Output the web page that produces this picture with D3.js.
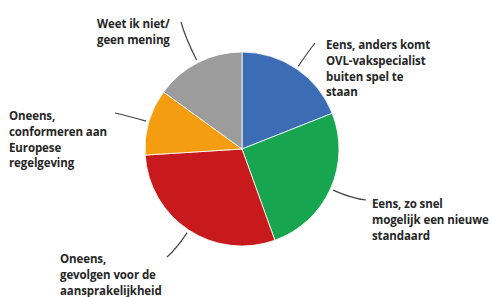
<!doctype html>
<html>
<head>
<meta charset="utf-8">
<script src="https://cdn.jsdelivr.net/npm/d3@7"></script>
<style>
  html, body { margin: 0; padding: 0; background: #fff; }
  svg { display: block; }
</style>
</head>
<body>
<script>
// Survey answers, clockwise from 12 o'clock
const categories = [
  "Eens, anders komt OVL-vakspecialist buiten spel te staan",
  "Eens, zo snel mogelijk een nieuwe standaard",
  "Oneens, gevolgen voor de aansprakelijkheid",
  "Oneens, conformeren aan Europese regelgeving",
  "Weet ik niet/ geen mening"
];
const values = [19, 25.5, 29.5, 11, 15];
const labelLines = [
  ["Eens, anders komt", "OVL-vakspecialist", "buiten spel te", "staan"],
  ["Eens, zo snel", "mogelijk een nieuwe", "standaard"],
  ["Oneens,", "gevolgen voor de", "aansprakelijkheid"],
  ["Oneens,", "conformeren aan", "Europese", "regelgeving"],
  ["Weet ik niet/", "geen mening"]
];
const colors = ["#3c6db4", "#17a64f", "#c8191d", "#f49d10", "#9c9c9c"];

const W = 493, H = 297;
const cx = 242, cy = 149, R = 97;
const lineH = 15.8;

// label block anchors (left x, first baseline) and leader end points
const labelPos = [
  { x: 326, y: 49, ex: 315, ey: 43 },
  { x: 372, y: 208, ex: 366, ey: 200 },
  { x: 60, y: 263, ex: 167, ey: 257 },
  { x: 9, y: 120, ex: 115, ey: 113 },
  { x: 97, y: 28, ex: 181, ey: 22 }
];

const svg = d3.select("body").append("svg")
  .attr("width", W).attr("height", H)
  .style("font-family", '"Open Sans", "DejaVu Sans", sans-serif');

const pie = d3.pie().sort(null).value(d => d)(values);
const arc = d3.arc().innerRadius(0).outerRadius(R);

const g = svg.append("g").attr("transform", `translate(${cx},${cy})`);

g.selectAll("path.slice")
  .data(pie)
  .join("path")
  .attr("class", "slice")
  .attr("d", arc)
  .attr("fill", (d, i) => colors[i])
  .attr("stroke", "#fff")
  .attr("stroke-width", 0.8);

// leader lines from slice mid-angle at the rim out to the label
const leaders = svg.append("g")
  .attr("fill", "none")
  .attr("stroke", "#444")
  .attr("stroke-width", 1.2);

pie.forEach((d, i) => {
  const a = (d.startAngle + d.endAngle) / 2;
  const dx = Math.sin(a), dy = -Math.cos(a);
  const sx = cx + dx * (R + 3), sy = cy + dy * (R + 3);
  const p = labelPos[i];
  const dist = Math.hypot(p.ex - sx, p.ey - sy);
  const qx = sx + dx * dist * 0.6, qy = sy + dy * dist * 0.6;
  leaders.append("path")
    .attr("d", `M${sx},${sy}Q${qx},${qy} ${p.ex},${p.ey}`);
});

// labels
labelLines.forEach((lines, i) => {
  const p = labelPos[i];
  const t = svg.append("text")
    .attr("x", p.x).attr("y", p.y)
    .attr("fill", "#262626")
    .attr("font-size", 11.5)
    .attr("font-weight", 700)
    .attr("letter-spacing", -0.1);
  lines.forEach((ln, j) => {
    t.append("tspan")
      .attr("x", p.x)
      .attr("y", p.y + j * lineH)
      .text(ln);
  });
});
</script>
</body>
</html>
